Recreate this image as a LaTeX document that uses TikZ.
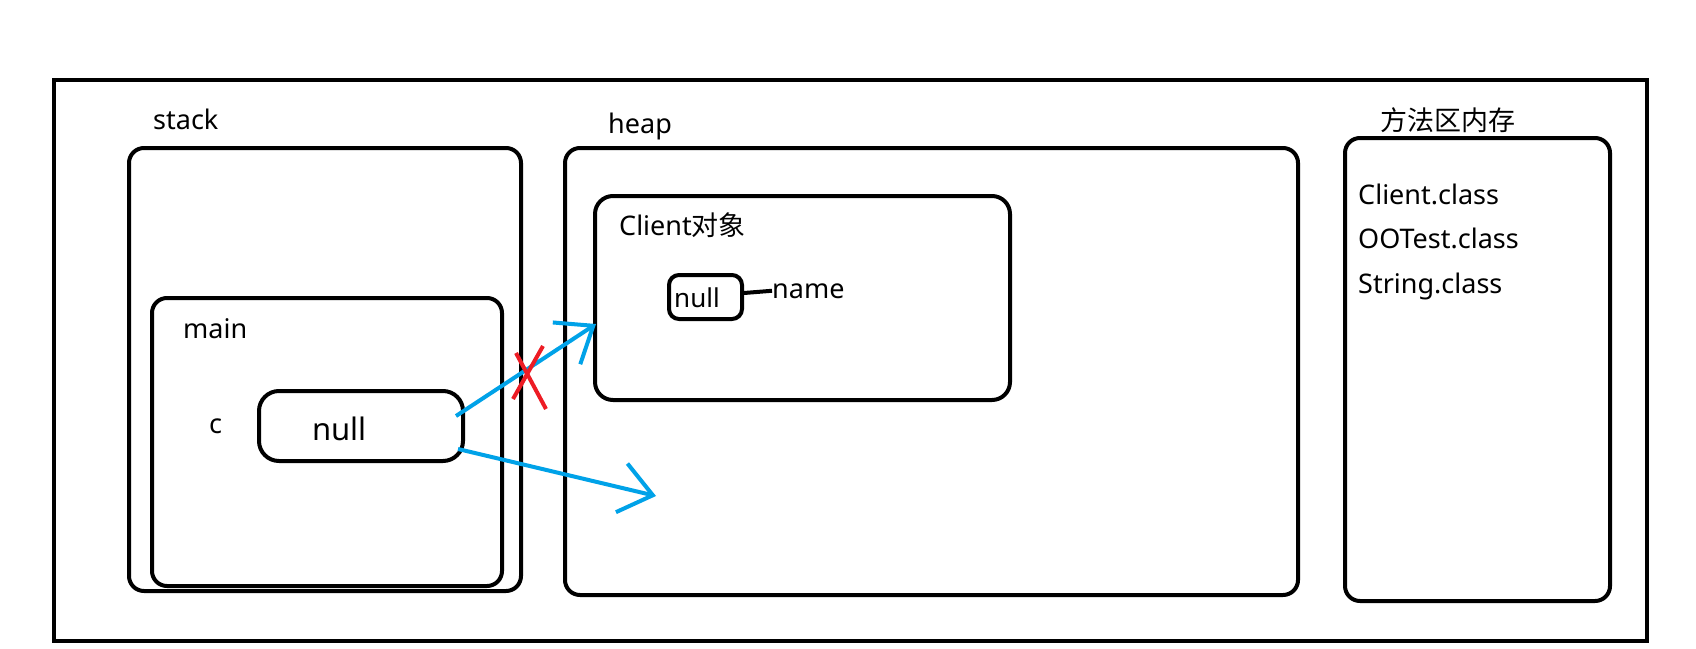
\documentclass[tikz,border=0pt]{standalone}
\usepackage{fontspec}
\setmainfont{Noto Sans}
\newfontfamily\cjk{Noto Sans CJK SC}
\usetikzlibrary{arrows.meta}
\definecolor{pblue}{RGB}{0,162,232}
\definecolor{pred}{RGB}{237,28,36}
\begin{document}
\begin{tikzpicture}[x=1pt,y=-1pt,
  box/.style={draw=black,line width=4pt,rounded corners=15pt,inner sep=0pt},
  lbl/.style={anchor=base west,inner sep=0pt,font=\fontsize{27}{32}\selectfont},
  ptr/.style={draw=pblue,line width=4pt,-{Straight Barb[length=32pt,width=50pt]}},
  cross/.style={draw=pred,line width=4pt}]
\useasboundingbox (0,0) rectangle (1696,648);
\fill[white] (0,0) rectangle (1696,648);
% outer frame
\node[draw=black,line width=4pt,inner sep=0pt,minimum width=1593pt,minimum height=561pt] (outer) at (850.5,360.5) {};
% stack
\node[box,minimum width=392pt,minimum height=443pt] (stack) at (325,369.5) {};
\node[box,minimum width=350pt,minimum height=288pt] (main) at (327,442) {};
\node[box,rounded corners=20pt,minimum width=204pt,minimum height=70pt] (cnull) at (361,426) {};
\node[lbl] (stacklbl) at (153,129) {stack};
\node[lbl] (mainlbl) at (183,338) {main};
\node[lbl] (clbl) at (209,433) {c};
\node[lbl,font=\fontsize{31}{36}\selectfont] (cnulltxt) at (312,440) {null};
% heap
\node[box,minimum width=733pt,minimum height=447pt] (heap) at (931.5,371.5) {};
\node[lbl] (heaplbl) at (608,133) {heap};
\node[box,rounded corners=18pt,minimum width=415pt,minimum height=204pt] (client) at (802.5,298) {};
\node[lbl] (clientlbl) at (619,235) {Client{\cjk 对象}};
\node[box,rounded corners=10pt,minimum width=73pt,minimum height=44pt] (inull) at (705.5,297) {};
\node[lbl,font=\fontsize{26}{30}\selectfont] (inulltxt) at (674,307) {null};
\node[lbl] (name) at (772,298) {name};
\draw[line width=4pt] ([yshift=4pt]inull.east) -- (name.west);
% method area
\node[box,minimum width=265pt,minimum height=463pt] (method) at (1477.5,369.5) {};
\node[lbl] (methodlbl) at (1380,130) {\cjk 方法区内存};
\node[lbl] (cls1) at (1358,204) {Client.class};
\node[lbl] (cls2) at (1358,248) {OOTest.class};
\node[lbl] (cls3) at (1358,293) {String.class};
% pointers
\coordinate (a1s) at (456,416);
\coordinate (a1e) at (596,324);
\coordinate (a2s) at (458,449);
\coordinate (a2e) at (656,496);
\draw[ptr] (a1s) -- (a1e);
\draw[ptr] (a2s) -- (a2e);
% red cross
\coordinate (x1a) at (516,353);
\coordinate (x1b) at (546,409);
\coordinate (x2a) at (543,346);
\coordinate (x2b) at (513,399);
\draw[cross] (x1a) -- (x1b);
\draw[cross] (x2a) -- (x2b);
\end{tikzpicture}
\end{document}
